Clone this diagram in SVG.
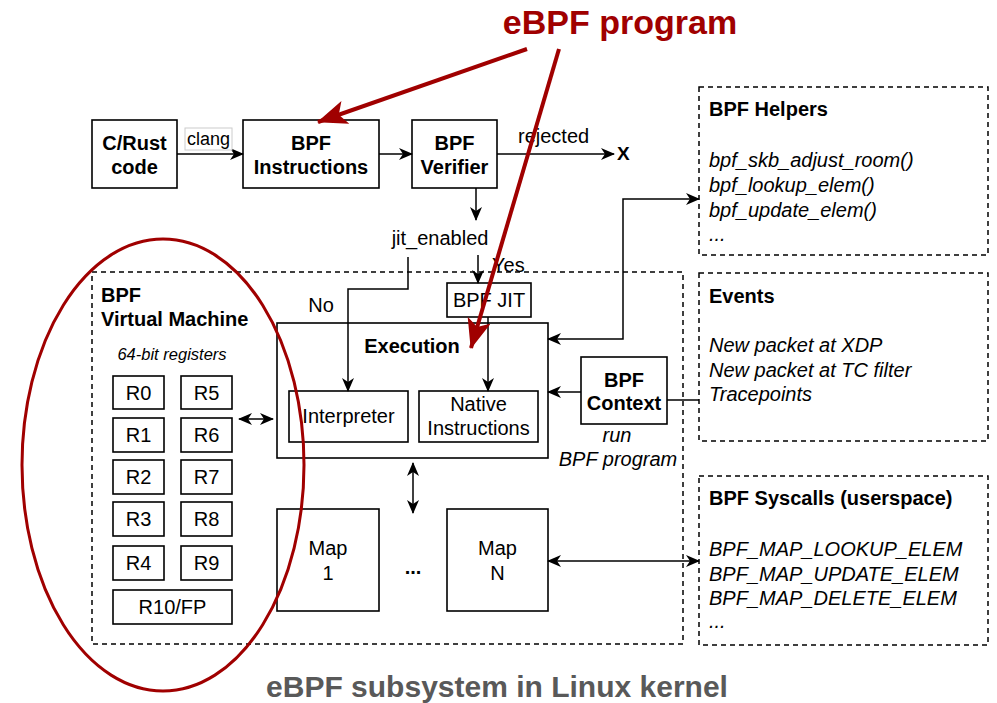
<svg xmlns="http://www.w3.org/2000/svg" width="997" height="703" viewBox="0 0 997 703">
<defs>
<marker id="ah" markerUnits="userSpaceOnUse" markerWidth="14" markerHeight="12" viewBox="0 0 14 12" refX="13" refY="6" orient="auto-start-reverse">
<path d="M0,0 L14,6 L0,12 L4,6 z" fill="#000"/>
</marker>
<marker id="rah" markerUnits="userSpaceOnUse" markerWidth="30" markerHeight="24" viewBox="0 0 30 24" refX="29" refY="12" orient="auto">
<path d="M0,0 L30,12 L0,24 L7,12 z" fill="#a00000"/>
</marker>
<style>
.box{fill:#fff;stroke:#000;stroke-width:1.6}
.dash{fill:#fff;stroke:#000;stroke-width:1.5;stroke-dasharray:5 4}
.ln{fill:none;stroke:#000;stroke-width:1.5}
text{font-family:"Liberation Sans",Arial,Helvetica,sans-serif;fill:#000}
.b{font-weight:bold;font-size:20px}
.r{font-size:20px}
.i{font-style:italic;font-size:20px}
.c{text-anchor:middle}
.red{fill:none;stroke:#a00000;stroke-width:4}
</style>
</defs>

<!-- containers -->
<g id="kernel"><rect class="dash" x="92" y="272" width="591" height="372"/></g>
<g id="helpers">
<rect class="dash" x="699" y="87" width="289" height="168"/>
<text class="b" x="709" y="116">BPF Helpers</text>
<text class="i" x="709" y="167">bpf_skb_adjust_room()</text>
<text class="i" x="709" y="192">bpf_lookup_elem()</text>
<text class="i" x="709" y="217">bpf_update_elem()</text>
<text class="i" x="709" y="241">...</text>
</g>
<g id="events">
<rect class="dash" x="699" y="273" width="289" height="168"/>
<text class="b" x="709" y="303">Events</text>
<text class="i" x="709" y="352">New packet at XDP</text>
<text class="i" x="709" y="377">New packet at TC filter</text>
<text class="i" x="709" y="401">Tracepoints</text>
</g>
<g id="syscalls">
<rect class="dash" x="699" y="476" width="289" height="169"/>
<text class="b" x="709" y="505">BPF Syscalls (userspace)</text>
<text class="i" x="709" y="556">BPF_MAP_LOOKUP_ELEM</text>
<text class="i" x="709" y="581">BPF_MAP_UPDATE_ELEM</text>
<text class="i" x="709" y="605">BPF_MAP_DELETE_ELEM</text>
<text class="i" x="709" y="628">...</text>
</g>

<!-- top row -->
<g id="crust">
<rect class="box" x="92" y="120" width="85" height="68"/>
<text class="b c" x="134.5" y="150">C/Rust</text>
<text class="b c" x="134.5" y="174">code</text>
</g>
<g id="instructions">
<rect class="box" x="243" y="120" width="136" height="68"/>
<text class="b c" x="311" y="150">BPF</text>
<text class="b c" x="311" y="174">Instructions</text>
</g>
<g id="verifier">
<rect class="box" x="412" y="120" width="85" height="68"/>
<text class="b c" x="454.5" y="150">BPF</text>
<text class="b c" x="454.5" y="174">Verifier</text>
</g>
<g id="x"><text x="617" y="160" style="font-weight:bold;font-size:19px">X</text></g>

<!-- VM -->
<g id="vm">
<text class="b" x="101" y="302">BPF</text>
<text class="b" x="101" y="326">Virtual Machine</text>
<text class="c" x="172" y="360" style="font-style:italic;font-size:16.5px">64-bit registers</text>
</g>
<g id="r0"><rect class="box" x="113" y="376" width="51" height="33"/><text class="r c" x="138.5" y="400">R0</text></g>
<g id="r1"><rect class="box" x="113" y="418" width="51" height="34"/><text class="r c" x="138.5" y="442">R1</text></g>
<g id="r2"><rect class="box" x="113" y="460" width="51" height="34"/><text class="r c" x="138.5" y="484">R2</text></g>
<g id="r3"><rect class="box" x="113" y="502" width="51" height="34"/><text class="r c" x="138.5" y="526">R3</text></g>
<g id="r4"><rect class="box" x="113" y="546" width="51" height="34"/><text class="r c" x="138.5" y="570">R4</text></g>
<g id="r5"><rect class="box" x="181" y="376" width="51" height="33"/><text class="r c" x="206.5" y="400">R5</text></g>
<g id="r6"><rect class="box" x="181" y="418" width="51" height="34"/><text class="r c" x="206.5" y="442">R6</text></g>
<g id="r7"><rect class="box" x="181" y="460" width="51" height="34"/><text class="r c" x="206.5" y="484">R7</text></g>
<g id="r8"><rect class="box" x="181" y="502" width="51" height="34"/><text class="r c" x="206.5" y="526">R8</text></g>
<g id="r9"><rect class="box" x="181" y="546" width="51" height="34"/><text class="r c" x="206.5" y="570">R9</text></g>
<g id="r10"><rect class="box" x="113" y="590" width="119" height="34"/><text class="r c" x="172.5" y="614">R10/FP</text></g>

<!-- execution -->
<g id="execution">
<rect class="box" x="277" y="323" width="271" height="135"/>
<text class="b c" x="412" y="353">Execution</text>
</g>
<g id="interpreter">
<rect class="box" x="289" y="391" width="119" height="51"/>
<text class="r c" x="348.5" y="423">Interpreter</text>
</g>
<g id="native">
<rect class="box" x="419" y="391" width="119" height="51"/>
<text class="r c" x="478.5" y="411">Native</text>
<text class="r c" x="478.5" y="435">Instructions</text>
</g>
<g id="jit">
<rect class="box" x="447" y="283" width="84" height="34"/>
<text class="r c" x="489" y="307">BPF JIT</text>
</g>
<g id="context">
<rect class="box" x="581" y="357" width="86" height="67"/>
<text class="b c" x="624" y="387">BPF</text>
<text class="b c" x="624" y="410">Context</text>
<text class="i c" x="617" y="442">run</text>
<text class="i c" x="618" y="466">BPF program</text>
</g>
<g id="map1">
<rect class="box" x="277" y="509" width="102" height="102"/>
<text class="r c" x="328" y="555">Map</text>
<text class="r c" x="328" y="580">1</text>
</g>
<g id="mapn">
<rect class="box" x="447" y="509" width="101" height="102"/>
<text class="r c" x="497.5" y="555">Map</text>
<text class="r c" x="497.5" y="580">N</text>
</g>
<g id="dots"><text class="b c" x="413" y="574">...</text></g>

<!-- connectors -->
<g id="connectors">
<path class="ln" d="M177,154 H243" marker-end="url(#ah)"/>
<g id="clang-label">
<rect x="185" y="128" width="47" height="22" fill="#fff" stroke="#ccc" stroke-width="1"/>
<text x="208.5" y="145" class="c" style="font-size:18px">clang</text>
</g>
<path class="ln" d="M379,154 H412" marker-end="url(#ah)"/>
<path class="ln" d="M497,154 H614" marker-end="url(#ah)"/>
<text class="r" x="518" y="143">rejected</text>
<path class="ln" d="M476,188 V220" marker-end="url(#ah)"/>
<text class="r c" x="440" y="245">jit_enabled</text>
<path class="ln" d="M478,255 V283" marker-end="url(#ah)"/>
<text class="r" x="492" y="272">Yes</text>
<path class="ln" d="M408,257 V289 H348 V391" marker-end="url(#ah)"/>
<text class="r c" x="321" y="312">No</text>
<path class="ln" d="M488,317 V391" marker-end="url(#ah)"/>
<path class="ln" d="M548,339 H623 V199 H699" marker-start="url(#ah)" marker-end="url(#ah)"/>
<path class="ln" d="M581,392 H548" marker-end="url(#ah)"/>
<path class="ln" d="M667,400 H699"/>
<path class="ln" d="M548,561 H699" marker-start="url(#ah)" marker-end="url(#ah)"/>
<path class="ln" d="M413,463 V513" marker-start="url(#ah)" marker-end="url(#ah)"/>
<path class="ln" d="M239,419 H273" marker-start="url(#ah)" marker-end="url(#ah)"/>
</g>

<!-- annotations -->
<g id="annotations">
<ellipse class="red" cx="163" cy="465" rx="141" ry="226" style="stroke-width:3"/>
<path class="red" d="M527,49 L318,122" marker-end="url(#rah)"/>
<path class="red" d="M559,49 L471,348" marker-end="url(#rah)"/>
<text x="620" y="34" class="c" style="font-weight:bold;font-size:34px;fill:#a00000">eBPF program</text>
<text x="497" y="697" class="c" style="font-weight:bold;font-size:30px;fill:#595959">eBPF subsystem in Linux kernel</text>
</g>
</svg>
